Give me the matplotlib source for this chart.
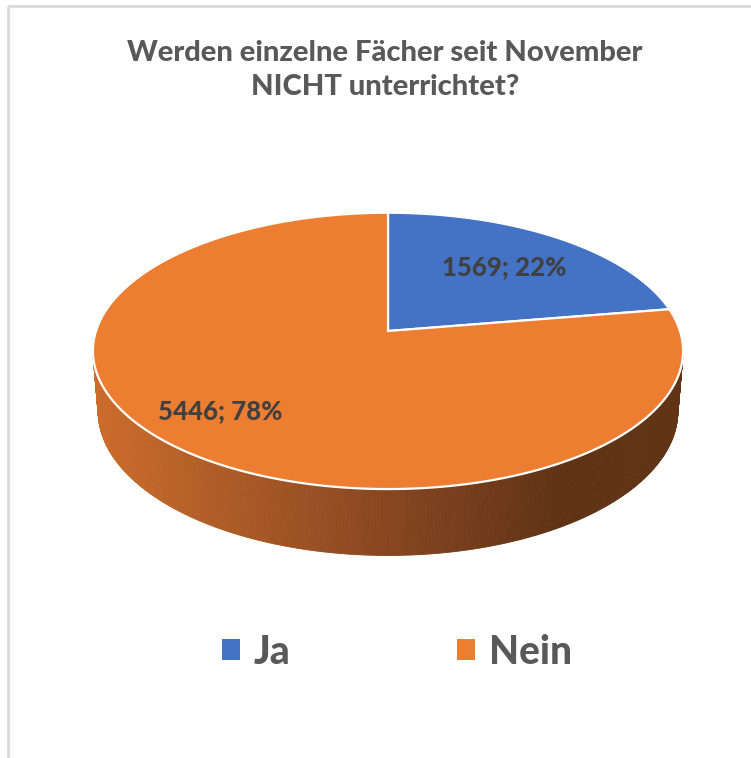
import numpy as np
import matplotlib
matplotlib.use("Agg")
import matplotlib.pyplot as plt
from matplotlib.patches import Polygon, Patch
from matplotlib.collections import PolyCollection
from matplotlib.colors import LinearSegmentedColormap

# ---- data ----
categories = ["Ja", "Nein"]
values = [1569, 5446]
colors = ["#4472C4", "#ED7D31"]
title = "Werden einzelne Fächer seit November\nNICHT unterrichtet?"

W, H = 751, 758
fig = plt.figure(figsize=(W / 100, H / 100), dpi=100)
ax = fig.add_axes([0, 0, 1, 1])
ax.set_xlim(0, W)
ax.set_ylim(H, 0)
ax.axis("off")

FONT = ["Lato", "DejaVu Sans"]

# ---- perspective projection of a flat cylinder ----
cx, cy = 388.0, 331.0          # pixel position of pie centre
S = 292.0                      # pixel scale
elev = np.deg2rad(27.6)
Dcam = 6.15
thick = 0.235

def project(theta, r=1.0, z=0.0):
    """theta: clockwise angle from the back (12 o'clock)"""
    x = r * np.sin(theta)
    y = r * np.cos(theta)
    Y = y * np.sin(elev) + z * np.cos(elev)
    d = -y * np.cos(elev) + z * np.sin(elev)
    f = Dcam / (Dcam - d)
    return cx + S * x * f, cy - S * Y * f

total = float(sum(values))
fracs = [v / total for v in values]
bounds = np.concatenate([[0.0], np.cumsum(fracs)]) * 2 * np.pi

# ---- side wall with horizontal gradient ----
side_cmap = LinearSegmentedColormap.from_list(
    "side", [(0.0, "#CC6C2B"), (0.5, "#874620"), (0.8, "#5E3215"), (1.0, "#613416")])
n = 720
th = np.linspace(0, 2 * np.pi, n + 1)
tx, ty = project(th, 1.0, 0.0)
bx, by = project(th, 1.0, -thick)
depth = -np.cos((th[:-1] + th[1:]) / 2)
order = np.argsort(depth)
polys, cols = [], []
xmin, xmax = tx.min(), tx.max()
for i in order:
    quad = [(tx[i], ty[i]), (tx[i + 1], ty[i + 1]), (bx[i + 1], by[i + 1]), (bx[i], by[i])]
    xm = (tx[i] + tx[i + 1]) / 2
    c = side_cmap((xm - xmin) / (xmax - xmin))
    polys.append(quad)
    cols.append(c)
pc = PolyCollection(polys, facecolors=cols, edgecolors=cols, linewidths=0.6)
ax.add_collection(pc)

# ---- top face wedges ----
for k, (a0, a1) in enumerate(zip(bounds[:-1], bounds[1:])):
    t = np.linspace(a0, a1, 300)
    px, py = project(t)
    pts = [(cx, cy)] + list(zip(px, py))
    ax.add_patch(Polygon(pts, closed=True, facecolor=colors[k],
                         edgecolor="white", linewidth=1.6, joinstyle="miter"))

# ---- data labels ----
label_r = [0.66, 0.76]
label_da = [0.0, np.deg2rad(4)]
for k, (a0, a1) in enumerate(zip(bounds[:-1], bounds[1:])):
    mid = (a0 + a1) / 2 + label_da[k]
    lx, ly = project(mid, label_r[k])
    ax.text(lx, ly, f"{values[k]}; {round(fracs[k] * 100)}%", ha="center", va="center",
            fontsize=18.5, fontweight=900, color="#404040", family=FONT)

# ---- title ----
ax.text(385, 70, title, ha="center", va="center", fontsize=21, fontweight=900,
        color="#595959", family=FONT, linespacing=1.4)

# ---- legend ----
handles = [Patch(facecolor=c, edgecolor="none") for c in colors]
fig.legend(handles, categories, loc="center", bbox_to_anchor=(397 / W, 1 - 652 / H),
           ncol=2, frameon=False, prop={"family": FONT, "weight": 900, "size": 28},
           labelcolor="#595959", handlelength=0.45, handleheight=0.45,
           handletextpad=0.35, columnspacing=4.3)

# ---- chart border (left and top only) ----
ax.plot([8, 8], [6, H], color="#D9D9D9", lw=2, solid_capstyle="butt")
ax.plot([8, W], [6, 6], color="#D9D9D9", lw=2, solid_capstyle="butt")

fig.savefig("out.png", dpi=100, facecolor="white")
